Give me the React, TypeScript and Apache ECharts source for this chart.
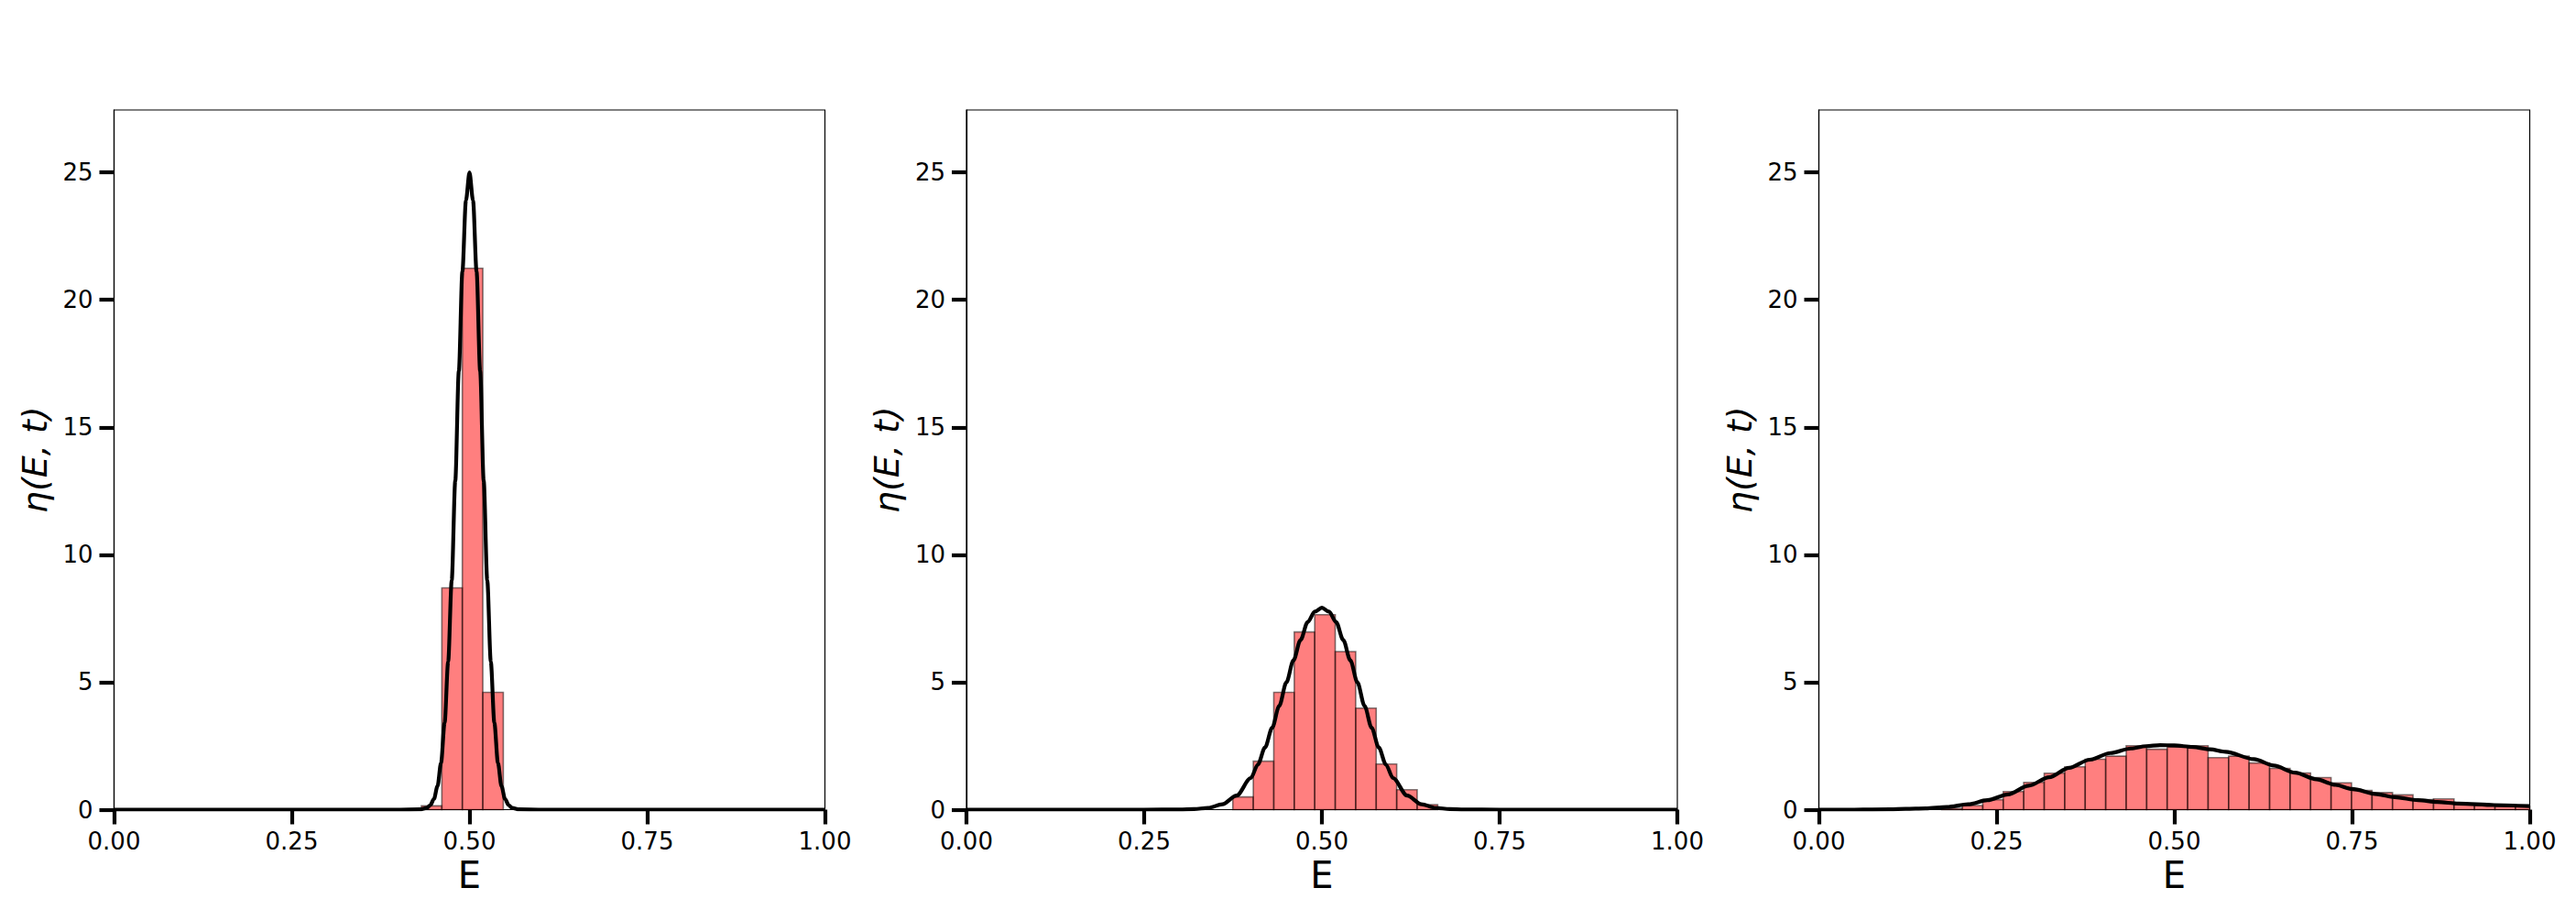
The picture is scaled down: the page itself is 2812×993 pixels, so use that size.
import React, { useEffect, useRef } from "react";
import * as echarts from "echarts";

// Histogram bins (common grid for all panels)
const BIN_WIDTH = 0.02882;

// Panel 1 (narrow)
const hist1FirstBin = 15;
const hist1Heights = [0.15, 8.7, 21.24, 4.6];
const curve1: [number, number][] = [
  [0, 0], [0.4, 0], [0.43, 0.01], [0.44, 0.07], [0.445, 0.18], [0.45, 0.42], [0.455, 0.92],
  [0.46, 1.84], [0.465, 3.4], [0.47, 5.8], [0.475, 9.0], [0.48, 12.9], [0.485, 17.2],
  [0.49, 21.1], [0.495, 23.9], [0.5, 25.0], [0.505, 23.9], [0.51, 21.1], [0.515, 17.2],
  [0.52, 12.9], [0.525, 9.0], [0.53, 5.8], [0.535, 3.4], [0.54, 1.84], [0.545, 0.92],
  [0.55, 0.42], [0.555, 0.18], [0.56, 0.07], [0.57, 0.01], [0.6, 0], [1.0, 0],
];

// Panel 2 (medium)
const hist2FirstBin = 13;
const hist2Heights = [0.5, 1.9, 4.6, 6.97, 7.65, 6.2, 3.98, 1.79, 0.78, 0.2];
const curve2: [number, number][] = [
  [0, 0], [0.25, 0], [0.3, 0.005], [0.32, 0.02], [0.34, 0.07], [0.36, 0.21], [0.38, 0.55],
  [0.4, 1.24], [0.41, 1.77], [0.42, 2.44], [0.43, 3.21], [0.44, 4.07], [0.45, 4.99],
  [0.46, 5.86], [0.47, 6.66], [0.48, 7.36], [0.49, 7.77], [0.5, 7.92], [0.51, 7.77],
  [0.52, 7.36], [0.53, 6.66], [0.54, 5.86], [0.55, 4.99], [0.56, 4.07], [0.57, 3.21],
  [0.58, 2.44], [0.59, 1.77], [0.6, 1.24], [0.62, 0.55], [0.64, 0.21], [0.66, 0.07],
  [0.68, 0.02], [0.7, 0.005], [0.75, 0], [1.0, 0],
];

// Panel 3 (wide, skewed)
const hist3FirstBin = 6;
const hist3Heights = [
  0.05, 0.16, 0.39, 0.71, 1.07, 1.43, 1.68, 1.98, 2.1, 2.51, 2.37, 2.46, 2.51, 2.04, 2.1,
  1.83, 1.62, 1.44, 1.26, 1.05, 0.75, 0.67, 0.58, 0.39, 0.42, 0.21, 0.17, 0.13, 0.13,
];
const curve3: [number, number][] = [
  [0, 0], [0.05, 0], [0.1, 0.01], [0.122, 0.03], [0.15, 0.05], [0.18, 0.1], [0.21, 0.21],
  [0.237, 0.37], [0.266, 0.6], [0.295, 0.94], [0.324, 1.27], [0.352, 1.64], [0.381, 1.96],
  [0.41, 2.22], [0.439, 2.4], [0.46, 2.49], [0.48, 2.53], [0.5, 2.52], [0.526, 2.46],
  [0.55, 2.37], [0.572, 2.27], [0.612, 1.98], [0.64, 1.73], [0.67, 1.45], [0.7, 1.19],
  [0.727, 0.97], [0.75, 0.81], [0.785, 0.61], [0.81, 0.49], [0.843, 0.37], [0.87, 0.3],
  [0.9, 0.24], [0.95, 0.18], [1.0, 0.14],
];

const xTicks = [0, 0.25, 0.5, 0.75, 1.0];
const yTicks = [0, 5, 10, 15, 20, 25];
const X_MAX = 1.0;
const Y_MAX = 27.45;
const xLabel = "E";
const yLabel = "η(E, t)";

const panels = [
  { first: hist1FirstBin, heights: hist1Heights, curve: curve1 },
  { first: hist2FirstBin, heights: hist2Heights, curve: curve2 },
  { first: hist3FirstBin, heights: hist3Heights, curve: curve3 },
];

const FONT = "DejaVu Sans";
const gridLefts = [124.5, 1055, 1985.5];

export default function App() {
  const ref = useRef<HTMLDivElement>(null);
  useEffect(() => {
    if (!ref.current) return;
    const chart = echarts.init(ref.current, undefined, { renderer: "svg" });
    const grid = gridLefts.map((l) => ({
      left: l,
      top: 120,
      width: 776,
      height: 763.5,
      show: true,
      borderColor: "#000",
      borderWidth: 1.2,
      backgroundColor: "transparent",
    }));
    const xAxis = panels.map((_, i) => ({
      type: "value",
      gridIndex: i,
      min: 0,
      max: X_MAX,
      interval: 0.25,
      name: xLabel,
      nameLocation: "middle",
      nameGap: 48,
      nameTextStyle: { fontFamily: FONT, fontSize: 40, color: "#000" },
      axisLine: { show: true, lineStyle: { color: "#000", width: 1.2 } },
      axisTick: { show: true, inside: false, length: 16, lineStyle: { color: "#000", width: 4.2 }, customValues: xTicks },
      axisLabel: {
        show: true,
        margin: 21,
        fontFamily: FONT,
        fontSize: 26,
        color: "#000",
        customValues: xTicks,
        formatter: (v: number) => v.toFixed(2),
      },
      splitLine: { show: false },
    }));
    const yAxis = panels.map((_, i) => ({
      type: "value",
      gridIndex: i,
      min: 0,
      max: Y_MAX,
      interval: 5,
      name: yLabel,
      nameLocation: "middle",
      nameRotate: 90,
      nameGap: 68,
      nameTextStyle: { fontFamily: FONT, fontSize: 38, fontStyle: "italic", color: "#000" },
      axisLine: { show: true, lineStyle: { color: "#000", width: 1.2 } },
      axisTick: { show: true, inside: false, length: 16, lineStyle: { color: "#000", width: 4.2 }, customValues: yTicks },
      axisLabel: {
        show: true,
        margin: 23,
        fontFamily: FONT,
        fontSize: 26,
        color: "#000",
        customValues: yTicks,
        formatter: (v: number) => String(v),
      },
      splitLine: { show: false },
    }));
    const series: any[] = [];
    panels.forEach((p, i) => {
      const bars = p.heights.map((h, j) => {
        const x0 = (p.first + j) * BIN_WIDTH;
        return [x0, x0 + BIN_WIDTH, h];
      });
      series.push({
        type: "custom",
        xAxisIndex: i,
        yAxisIndex: i,
        z: 2,
        encode: { x: [0, 1], y: 2 },
        data: bars,
        renderItem: (_params: any, api: any) => {
          const x0 = api.value(0);
          const x1 = Math.min(api.value(1), X_MAX);
          const h = api.value(2);
          const p0 = api.coord([x0, h]);
          const p1 = api.coord([x1, 0]);
          return {
            type: "rect",
            shape: { x: p0[0], y: p0[1], width: p1[0] - p0[0], height: p1[1] - p0[1] },
            style: { fill: "rgba(255,0,0,0.5)", stroke: "rgba(0,0,0,0.5)", lineWidth: 1.6 },
          };
        },
      });
      series.push({
        type: "line",
        xAxisIndex: i,
        yAxisIndex: i,
        z: 3,
        data: p.curve,
        showSymbol: false,
        symbol: "none",
        smooth: 0.3,
        smoothMonotone: "x",
        lineStyle: { color: "#000", width: 4.2 },
      });
    });
    chart.setOption({
      animation: false,
      backgroundColor: "#fff",
      grid,
      xAxis,
      yAxis,
      series,
    });
    return () => chart.dispose();
  }, []);
  return (
    <div
      ref={ref}
      style={{ position: "fixed", left: 0, top: 0, width: 2812, height: 993, background: "#fff" }}
    />
  );
}
